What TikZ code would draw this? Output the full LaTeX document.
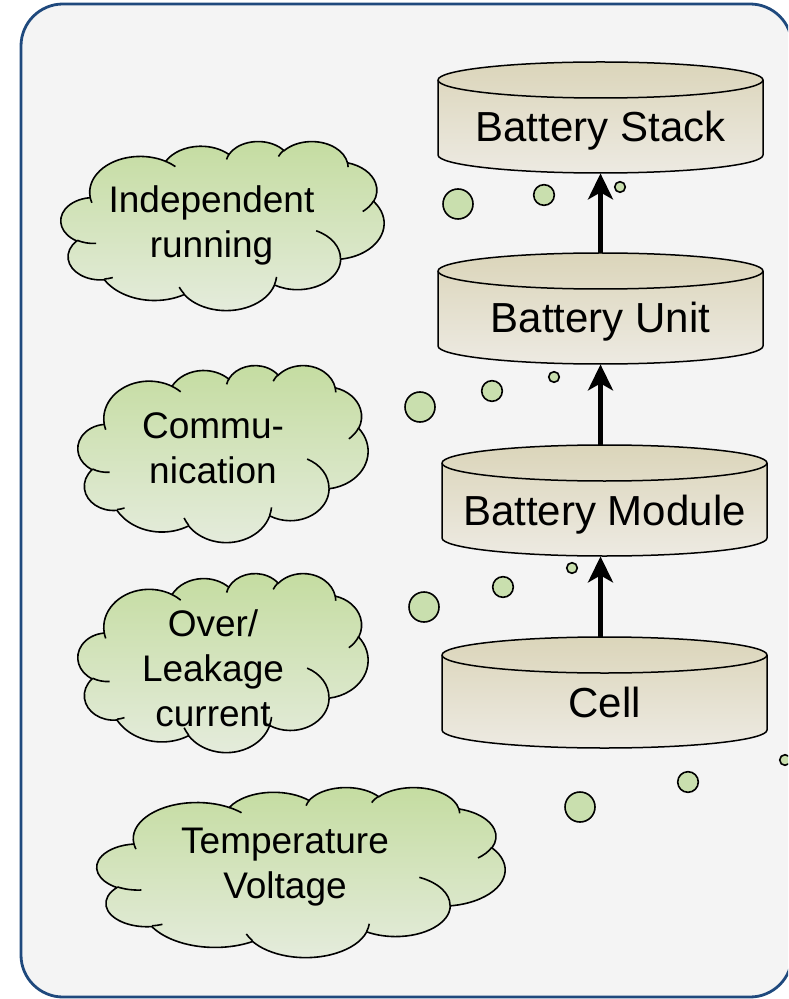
\documentclass[tikz,border=0pt]{standalone}
\usepackage{fontspec}
\setmainfont{Liberation Sans}
\usetikzlibrary{arrows.meta}

\definecolor{framenavy}{RGB}{31,73,125}
\definecolor{panelgray}{RGB}{244,244,244}
\definecolor{cantop}{RGB}{219,213,186}
\definecolor{canbottom}{RGB}{237,234,226}
\definecolor{cloudtop}{RGB}{196,220,160}
\definecolor{cloudbottom}{RGB}{229,236,221}
\definecolor{bubblegreen}{RGB}{201,223,174}

\tikzset{
  % elliptic arc given by its radii, start angle and sweep (angles measured
  % on the ellipse itself, y pointing down)
  pptarc/.style n args={4}{x radius=#1, y radius=#2,
    start angle={atan2(#1*sin(#3),#2*cos(#3))},
    delta angle={mod(atan2(#1*sin(#3+#4),#2*cos(#3+#4))-atan2(#1*sin(#3),#2*cos(#3))+720,360)}},
  % puffy cloud in a 43.2 x 43.2 box, scaled to width x height
  pics/greencloud/.style 2 args={code={
    \begin{scope}[xscale=#1/43.2, yscale=#2/43.2]
      \path[cloud_body] (3.900,14.370)
        arc[pptarc={6.753}{9.190}{-190.4875}{123.7805}]
        arc[pptarc={5.333}{7.267}{-144.1024}{89.9452}]
        arc[pptarc={4.365}{5.945}{-145.8079}{99.7230}]
        arc[pptarc={4.857}{6.595}{-130.9861}{117.2417}]
        arc[pptarc={5.333}{7.273}{-78.7089}{109.0269}]
        arc[pptarc={6.775}{9.220}{-46.2673}{130.2690}]
        arc[pptarc={5.785}{7.867}{0.6250}{114.0333}]
        arc[pptarc={6.752}{9.215}{22.4516}{115.1726}]
        arc[pptarc={7.720}{10.543}{66.2426}{75.7110}]
        arc[pptarc={4.360}{5.918}{-274.9421}{146.7356}]
        arc[pptarc={4.345}{5.945}{-246.8285}{152.5189}]
        -- cycle;
      % inner folds of the puffs
      \path[cloud_fold]
        (4.693,26.177) arc[pptarc={4.345}{5.945}{86.7420}{26.4295}]
        (6.928,34.899) arc[pptarc={4.360}{5.918}{73.6105}{11.4475}]
        (16.478,39.090) arc[pptarc={6.752}{9.215}{137.6242}{14.0811}]
        (28.827,34.751) arc[pptarc={6.752}{9.215}{6.4533}{15.9984}]
        (34.129,22.954) arc[pptarc={5.785}{7.867}{-70.2924}{70.9174}]
        (41.798,15.354) arc[pptarc={5.333}{7.273}{30.3180}{27.7515}]
        (38.324,5.426) arc[pptarc={4.857}{6.595}{-13.7443}{14.8589}]
        (29.078,3.952) arc[pptarc={4.857}{6.595}{-149.1815}{18.1954}]
        (22.141,4.720) arc[pptarc={4.365}{5.945}{-163.4943}{17.6864}]
        (14.000,5.192) arc[pptarc={6.753}{9.190}{-66.7070}{12.3194}]
        (4.127,15.789) arc[pptarc={6.753}{9.190}{157.6544}{11.8582}];
    \end{scope}}},
  % flat can, 325 x 111 around its centre
  pics/tancan/.style={code={
    \path[can_body] (-162.5,-37.5) -- (-162.5,37.5)
      arc[start angle=180, end angle=360, x radius=81.25pt, y radius=9pt]
      -- (162.5,-37.5)
      arc[start angle=0, end angle=180, x radius=81.25pt, y radius=9pt] -- cycle;
    \draw[can_rim] (-162.5,-37.5)
      arc[start angle=180, end angle=360, x radius=81.25pt, y radius=9pt];
  }}
}

\begin{document}
\begin{tikzpicture}[x=0.5pt, y=-0.5pt,
    frame_line/.style ={draw=framenavy, line width=1.4pt, fill=panelgray,
      rounded corners=21pt},
    cloud_body/.style ={draw=black, line width=0.8pt,
      top color=cloudtop, bottom color=cloudbottom},
    cloud_fold/.style ={draw=black, line width=0.8pt, fill=none},
    can_body/.style ={draw=black, line width=0.75pt,
      top color=cantop, bottom color=canbottom},
    can_rim/.style ={draw=black, line width=0.75pt},
    can_label/.style ={rectangle, draw=none, inner sep=0pt,
      minimum width=162.5pt, minimum height=55.5pt,
      text height=40pt, text depth=15.5pt,
      font=\fontsize{21pt}{25pt}\selectfont},
    cloud_text/.style ={draw=none, inner sep=0pt, align=center,
      font=\fontsize{18.5pt}{22.5pt}\selectfont},
    bubble/.style ={draw=black, line width=0.8pt, fill=bubblegreen},
    lift/.style ={draw, line width=2.2pt,
      -{Stealth[length=13pt, width=12.5pt, inset=3.5pt]}}]
    \path[use as bounding box, clip] (0,0) rectangle (788,999);
    %
    % 1. panel and clouds
    \path[frame_line] (21,4) rectangle (792,997);
    \pic at (61,141) {greencloud={323}{169}};
    \pic at (78,365) {greencloud={290}{177}};
    \pic at (78,573) {greencloud={290}{179}};
    \pic at (97,787) {greencloud={408}{170}};
    \node [cloud_text] (indep) at (211.5,225) {Independent\\running};
    \node [cloud_text] (comm) at (213,448) {Commu-\\nication};
    \node [cloud_text] (leak) at (213,668) {Over/\\Leakage\\current};
    \node [cloud_text] (tempv) at (285,867) {Temperature\\Voltage};
    %
    % 2. the battery levels
    \pic at (600.5,117.5) {tancan};
    \pic at (600.5,308.5) {tancan};
    \pic at (604.5,500.5) {tancan};
    \pic at (604.5,692.5) {tancan};
    \node [can_label] (stack) at (600.5,117.5) {Battery Stack};
    \node [can_label] (unit) at (600.5,308.5) {Battery Unit};
    \node [can_label] (module) at (604.5,500.5) {Battery Module};
    \node [can_label] (cell) at (604.5,692.5) {Cell};
    %
    % 3. arrows between levels
    \begin{scope}[every path/.style=lift]
      \path (cell.north -| stack) -- (module.south -| stack);
      \path (module.north -| stack) -- (unit.south -| stack);
      \path (unit.north -| stack) -- (stack.south);
    \end{scope}
    %
    % 4. thought bubbles
    \begin{scope}[every path/.style=bubble]
      \path (458,204) circle[radius=15];
      \path (544,195) circle[radius=10.3];
      \path (620,187) circle[radius=5.3];
      \path (420,407) circle[radius=15];
      \path (492,391) circle[radius=10.3];
      \path (554,377) circle[radius=5.3];
      \path (424,607) circle[radius=15];
      \path (503,587) circle[radius=10.3];
      \path (572,568) circle[radius=5.3];
      \path (580,807) circle[radius=15];
      \path (688,782) circle[radius=10.3];
      \path (785,760) circle[radius=5.3];
    \end{scope}
\end{tikzpicture}
\end{document}
